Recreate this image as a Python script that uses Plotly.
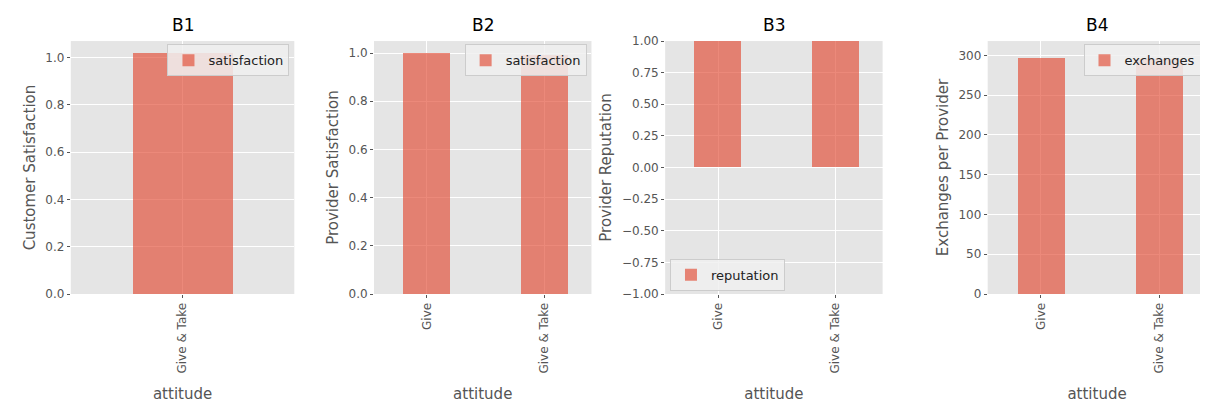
import plotly.graph_objects as go

b1_cats = ["Give & Take"]; b1_vals = [1.02]
b2_cats = ["Give", "Give & Take"]; b2_vals = [1.0, 0.99]
b3_cats = ["Give", "Give & Take"]; b3_vals = [1.0, 1.0]
b4_cats = ["Give", "Give & Take"]; b4_vals = [297, 296]
titles = ["B1", "B2", "B3", "B4"]
ylabels = ["Customer Satisfaction", "Provider Satisfaction", "Provider Reputation", "Exchanges per Provider"]
names = ["satisfaction", "satisfaction", "reputation", "exchanges"]

xd = [(0.052, 0.237), (0.303, 0.483), (0.544, 0.724), (0.811, 0.992)]
yd = (0.299, 0.919)
xr = [[-0.56, 0.56], [-0.45, 1.4], [-0.45, 1.4], [-0.45, 1.4]]
yr = [[0, 1.07], [0, 1.05], [-1, 1], [0, 318]]
widths = [0.5, 0.4, 0.4, 0.4]
yfmt = [".1f", ".1f", ".2f", "d"]
legpos = [(1, 1, "right", "top"), (1, 1, "right", "top"), (0, 0, "left", "bottom"), (1, 1, "right", "top")]
data = [(b1_cats, b1_vals), (b2_cats, b2_vals), (b3_cats, b3_vals), (b4_cats, b4_vals)]

fig = go.Figure()
layout = dict(width=1208, height=408, margin=dict(l=0, r=0, t=0, b=0, autoexpand=False),
              paper_bgcolor="white", plot_bgcolor="#E5E5E5", showlegend=True,
              font=dict(family="DejaVu Sans", color="#555555"), bargap=0, annotations=[])
for i in range(4):
    s = "" if i == 0 else str(i + 1)
    cats, vals = data[i]
    fig.add_trace(go.Bar(x=list(range(len(cats))), y=vals, width=widths[i], name=names[i],
                         showlegend=True,
                         marker=dict(color="rgba(226,74,51,0.65)", line=dict(width=0)),
                         xaxis="x" + s, yaxis="y" + s, legend="legend" + s))
    layout["xaxis" + s] = dict(domain=xd[i], anchor="y" + s, range=xr[i], tickmode="array",
                               tickvals=list(range(len(cats))), ticktext=cats, tickangle=-90,
                               showgrid=True, gridcolor="white", zeroline=False, automargin=False,
                               title=dict(text="attitude", font=dict(size=15)),
                               tickfont=dict(size=12), ticks="outside", tickcolor="#555", ticklen=3)
    layout["yaxis" + s] = dict(domain=yd, anchor="x" + s, range=yr[i], showgrid=True,
                               gridcolor="white", zeroline=False, automargin=False, tickformat=yfmt[i],
                               title=dict(text=ylabels[i], font=dict(size=15), standoff=6),
                               tickfont=dict(size=12), ticks="outside", tickcolor="#555", ticklen=3)
    if i == 2:
        layout["yaxis" + s]["dtick"] = 0.25
    lx, ly, xa, ya = legpos[i]
    x0, x1 = xd[i]
    layout["legend" + s] = dict(x=x0 + (x1 - x0) * lx + (-0.004 if lx else 0.004),
                                y=yd[0] + (yd[1] - yd[0]) * ly + (-0.008 if ly else 0.008),
                                xanchor=xa, yanchor=ya, xref="paper", yref="paper",
                                bgcolor="rgba(240,240,240,0.85)", bordercolor="#cccccc", borderwidth=1,
                                font=dict(size=13, color="#222"), itemwidth=30,
                                tracegroupgap=0)
    layout["annotations"].append(dict(text=titles[i], x=(x0 + x1) / 2, y=yd[1] + 0.01, xref="paper",
                                      yref="paper", xanchor="center", yanchor="bottom", showarrow=False,
                                      font=dict(size=17, color="black")))
fig.update_layout(**layout)
fig.write_html("out.html")
